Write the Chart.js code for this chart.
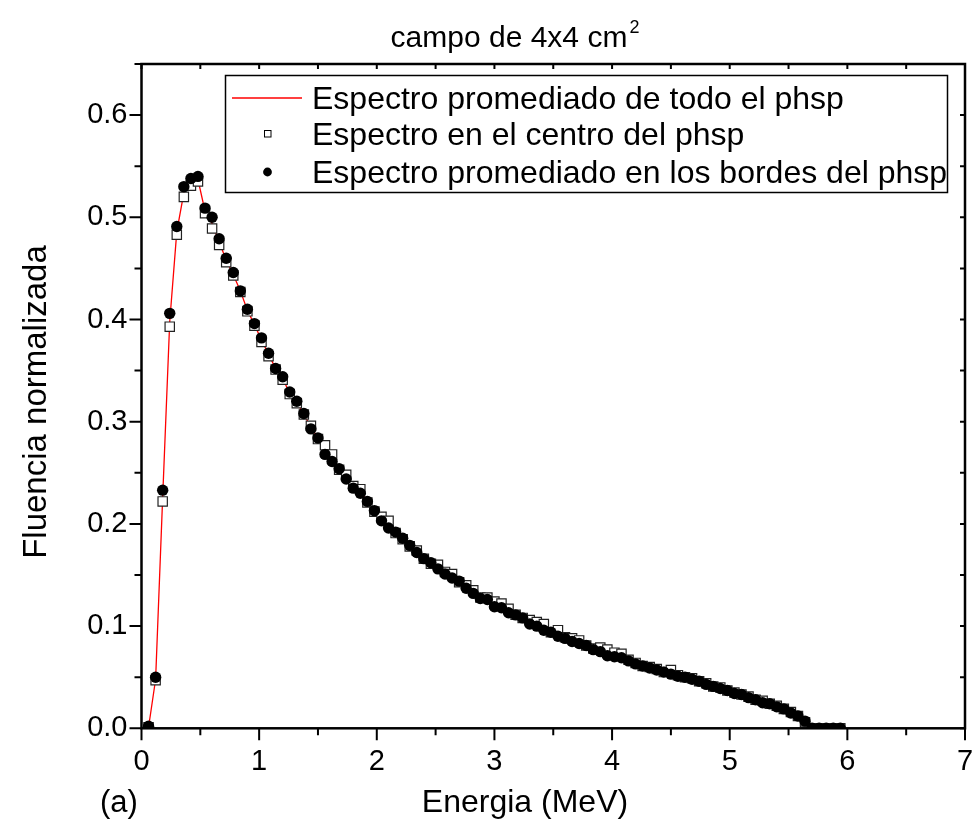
<!DOCTYPE html>
<html>
<head>
<meta charset="utf-8">
<title>campo de 4x4 cm2</title>
<script src="https://cdn.jsdelivr.net/npm/chart.js@4.4.1/dist/chart.umd.min.js"></script>
<style>
  html, body { margin: 0; padding: 0; background: #fff; }
</style>
</head>
<body>
<canvas id="chartEspectro" width="975" height="831"></canvas>
<script>
// energia de cada bin (MeV)
const energias = [
  0.06, 0.12, 0.18, 0.24, 0.30, 0.36, 0.42, 0.48, 0.54, 0.60,
  0.66, 0.72, 0.78, 0.84, 0.90, 0.96, 1.02, 1.08, 1.14, 1.20,
  1.26, 1.32, 1.38, 1.44, 1.50, 1.56, 1.62, 1.68, 1.74, 1.80,
  1.86, 1.92, 1.98, 2.04, 2.10, 2.16, 2.22, 2.28, 2.34, 2.40,
  2.46, 2.52, 2.58, 2.64, 2.70, 2.76, 2.82, 2.88, 2.94, 3.00,
  3.06, 3.12, 3.18, 3.24, 3.30, 3.36, 3.42, 3.48, 3.54, 3.60,
  3.66, 3.72, 3.78, 3.84, 3.90, 3.96, 4.02, 4.08, 4.14, 4.20,
  4.26, 4.32, 4.38, 4.44, 4.50, 4.56, 4.62, 4.68, 4.74, 4.80,
  4.86, 4.92, 4.98, 5.04, 5.10, 5.16, 5.22, 5.28, 5.34, 5.40,
  5.46, 5.52, 5.58, 5.64, 5.70, 5.76, 5.82, 5.88, 5.94
];

// espectro promediado de todo el phsp (linea roja)
const promTodo = [
  0.001, 0.048, 0.226, 0.398, 0.486, 0.524, 0.533, 0.537, 0.506, 0.494,
  0.476, 0.458, 0.444, 0.428, 0.409, 0.395, 0.380, 0.366, 0.352, 0.342,
  0.328, 0.319, 0.307, 0.295, 0.284, 0.272, 0.264, 0.254, 0.246, 0.236,
  0.232, 0.222, 0.213, 0.205, 0.199, 0.192, 0.186, 0.179, 0.173, 0.166,
  0.162, 0.158, 0.152, 0.149, 0.144, 0.139, 0.134, 0.128, 0.127, 0.121,
  0.120, 0.115, 0.111, 0.108, 0.104, 0.102, 0.099, 0.094, 0.093, 0.089,
  0.087, 0.085, 0.081, 0.078, 0.077, 0.074, 0.072, 0.071, 0.067, 0.064,
  0.061, 0.060, 0.058, 0.055, 0.055, 0.052, 0.050, 0.049, 0.046, 0.044,
  0.041, 0.040, 0.037, 0.035, 0.033, 0.031, 0.028, 0.026, 0.024, 0.022,
  0.019, 0.016, 0.012, 0.007, 0.000, 0.000, 0.000, 0.000, 0.000
];

// espectro en el centro del phsp (cuadrados)
const centro = [
  0.001, 0.047, 0.222, 0.393, 0.483, 0.520, 0.531, 0.535, 0.504, 0.489,
  0.473, 0.456, 0.443, 0.427, 0.408, 0.394, 0.378, 0.364, 0.351, 0.341,
  0.327, 0.318, 0.307, 0.296, 0.283, 0.277, 0.268, 0.253, 0.248, 0.237,
  0.234, 0.221, 0.212, 0.207, 0.203, 0.191, 0.185, 0.178, 0.174, 0.166,
  0.161, 0.160, 0.153, 0.151, 0.143, 0.140, 0.135, 0.128, 0.128, 0.124,
  0.122, 0.117, 0.111, 0.108, 0.106, 0.104, 0.102, 0.094, 0.096, 0.089,
  0.088, 0.086, 0.081, 0.078, 0.079, 0.077, 0.074, 0.073, 0.067, 0.064,
  0.061, 0.060, 0.058, 0.055, 0.057, 0.052, 0.050, 0.049, 0.046, 0.044,
  0.041, 0.040, 0.037, 0.035, 0.033, 0.031, 0.028, 0.027, 0.024, 0.022,
  0.019, 0.016, 0.012, 0.006, 0.000, 0.000, 0.000, 0.000, 0.000
];

// espectro promediado en los bordes del phsp (circulos)
const bordes = [
  0.002, 0.050, 0.233, 0.406, 0.491, 0.530, 0.538, 0.540, 0.509, 0.500,
  0.479, 0.460, 0.446, 0.428, 0.410, 0.396, 0.382, 0.367, 0.352, 0.344,
  0.329, 0.320, 0.308, 0.293, 0.284, 0.268, 0.261, 0.254, 0.244, 0.235,
  0.230, 0.222, 0.213, 0.203, 0.196, 0.192, 0.186, 0.179, 0.172, 0.166,
  0.162, 0.156, 0.151, 0.147, 0.144, 0.137, 0.132, 0.127, 0.126, 0.119,
  0.118, 0.113, 0.111, 0.108, 0.102, 0.100, 0.096, 0.094, 0.090, 0.088,
  0.085, 0.083, 0.081, 0.077, 0.075, 0.071, 0.070, 0.069, 0.066, 0.063,
  0.061, 0.059, 0.057, 0.055, 0.053, 0.051, 0.050, 0.048, 0.046, 0.043,
  0.041, 0.039, 0.037, 0.034, 0.033, 0.030, 0.028, 0.025, 0.024, 0.021,
  0.019, 0.015, 0.012, 0.007, 0.000, 0.000, 0.000, 0.000, 0.000
];

const xTicks = [0, 1, 2, 3, 4, 5, 6, 7];
const yTicks = [0.0, 0.1, 0.2, 0.3, 0.4, 0.5, 0.6];

const titulo = 'campo de 4x4 cm';
const tituloSup = '2';
const etiquetaX = 'Energia (MeV)';
const etiquetaY = 'Fluencia normalizada';
const panel = '(a)';

const FUENTE = "'Liberation Sans', Arial, sans-serif";

const puntos = (ys) => energias.map((e, i) => ({ x: e, y: ys[i] }));

// marco, ticks menores, titulos y leyenda al estilo Origin
const marcoPlugin = {
  id: 'marco',
  afterDraw(chart) {
    const ctx = chart.ctx;
    const a = chart.chartArea;
    const sx = chart.scales.x;
    const sy = chart.scales.y;
    ctx.save();
    ctx.strokeStyle = '#000';
    ctx.lineCap = 'butt';

    // ticks
    ctx.lineWidth = 2;
    ctx.beginPath();
    for (let i = 0; i < xTicks.length; i++) {
      const px = sx.getPixelForValue(xTicks[i]);
      ctx.moveTo(px, a.bottom); ctx.lineTo(px, a.bottom + 12);
      ctx.moveTo(px, a.top); ctx.lineTo(px, a.top + 5);
      if (i < xTicks.length - 1) {
        const pm = sx.getPixelForValue((xTicks[i] + xTicks[i + 1]) / 2);
        ctx.moveTo(pm, a.bottom); ctx.lineTo(pm, a.bottom + 7);
        ctx.moveTo(pm, a.top); ctx.lineTo(pm, a.top + 5);
      }
    }
    for (let i = 0; i < yTicks.length; i++) {
      const py = sy.getPixelForValue(yTicks[i]);
      ctx.moveTo(a.left, py); ctx.lineTo(a.left - 12, py);
      ctx.moveTo(a.right, py); ctx.lineTo(a.right - 5, py);
      const pm = sy.getPixelForValue(yTicks[i] + 0.05);
      ctx.moveTo(a.left, pm); ctx.lineTo(a.left - 7, pm);
      ctx.moveTo(a.right, pm); ctx.lineTo(a.right - 5, pm);
    }
    ctx.stroke();

    // marco
    ctx.lineWidth = 2.5;
    ctx.strokeRect(a.left, a.top, a.right - a.left, a.bottom - a.top);

    // titulo
    ctx.fillStyle = '#000';
    ctx.font = '30px ' + FUENTE;
    ctx.textBaseline = 'alphabetic';
    ctx.textAlign = 'left';
    const wT = ctx.measureText(titulo).width;
    ctx.font = '18px ' + FUENTE;
    const wS = ctx.measureText(tituloSup).width;
    const x0 = 515 - (wT + wS + 2) / 2;
    ctx.font = '30px ' + FUENTE;
    ctx.fillText(titulo, x0, 47);
    ctx.font = '18px ' + FUENTE;
    ctx.fillText(tituloSup, x0 + wT + 2, 33);

    // etiquetas de ejes
    ctx.font = '32px ' + FUENTE;
    ctx.textAlign = 'center';
    ctx.fillText(etiquetaX, 525, 812);
    ctx.textAlign = 'left';
    ctx.font = '31px ' + FUENTE;
    ctx.fillText(panel, 100, 812);
    ctx.save();
    ctx.font = '33px ' + FUENTE;
    ctx.translate(46, 402);
    ctx.rotate(-Math.PI / 2);
    ctx.textAlign = 'center';
    ctx.fillText(etiquetaY, 0, 0);
    ctx.restore();

    // leyenda
    const ds = chart.data.datasets;
    ctx.fillStyle = '#fff';
    ctx.fillRect(225, 75, 723, 118);
    ctx.lineWidth = 1.5;
    ctx.strokeStyle = '#000';
    ctx.strokeRect(225.5, 75.5, 722, 117);
    ctx.font = '32px ' + FUENTE;
    ctx.textAlign = 'left';
    ctx.fillStyle = '#000';
    const filas = [98, 134, 172];
    // linea roja
    ctx.strokeStyle = ds[2].borderColor;
    ctx.lineWidth = 1.3;
    ctx.beginPath();
    ctx.moveTo(232, filas[0]); ctx.lineTo(302, filas[0]);
    ctx.stroke();
    ctx.fillText(ds[2].label, 312, filas[0] + 11);
    // cuadrado
    ctx.fillStyle = '#fff';
    ctx.strokeStyle = '#000';
    ctx.lineWidth = 1;
    ctx.fillRect(264, filas[1] - 3.5, 7, 7);
    ctx.strokeRect(264.5, filas[1] - 3.5, 6.5, 6.5);
    ctx.fillStyle = '#000';
    ctx.fillText(ds[1].label, 312, filas[1] + 11);
    // circulo
    ctx.beginPath();
    ctx.arc(267.5, filas[2], 4.4, 0, Math.PI * 2);
    ctx.fill();
    ctx.fillText(ds[0].label, 312, filas[2] + 11);

    ctx.restore();
  }
};

new Chart(document.getElementById('chartEspectro'), {
  type: 'scatter',
  data: {
    datasets: [
      {
        label: 'Espectro promediado en los bordes del phsp',
        data: puntos(bordes),
        pointStyle: 'circle',
        pointRadius: 5.7,
        pointBackgroundColor: '#000',
        pointBorderColor: '#000',
        pointBorderWidth: 0,
        showLine: false,
        clip: 0,
        order: 0
      },
      {
        label: 'Espectro en el centro del phsp',
        data: puntos(centro),
        pointStyle: 'rect',
        pointRadius: 6.6,
        pointBackgroundColor: '#fff',
        pointBorderColor: '#222',
        pointBorderWidth: 1.2,
        showLine: false,
        clip: 0,
        order: 1
      },
      {
        label: 'Espectro promediado de todo el phsp',
        data: puntos(promTodo),
        showLine: true,
        borderColor: '#ff0000',
        borderWidth: 1.3,
        pointRadius: 0,
        tension: 0,
        clip: 0,
        order: 2
      }
    ]
  },
  options: {
    responsive: false,
    animation: false,
    devicePixelRatio: 1,
    layout: { padding: { top: 64, right: 10, bottom: 0, left: 0 } },
    plugins: {
      legend: { display: false },
      tooltip: { enabled: false },
      title: { display: false }
    },
    scales: {
      x: {
        type: 'linear',
        min: 0,
        max: 7,
        grid: { display: false, drawTicks: false },
        border: { display: false },
        afterBuildTicks: (s) => { s.ticks = xTicks.map(v => ({ value: v })); },
        afterFit: (s) => { s.height = 102.7; s.paddingLeft = 0; s.paddingRight = 0; },
        ticks: {
          color: '#000',
          padding: 16,
          maxRotation: 0,
          autoSkip: false,
          font: { family: FUENTE, size: 29 },
          callback: (v) => String(v)
        }
      },
      y: {
        type: 'linear',
        min: 0,
        max: 0.65,
        grid: { display: false, drawTicks: false },
        border: { display: false },
        afterBuildTicks: (s) => { s.ticks = yTicks.map(v => ({ value: v })); },
        afterFit: (s) => { s.width = 141.5; s.paddingTop = 0; s.paddingBottom = 0; },
        ticks: {
          color: '#000',
          padding: 14,
          autoSkip: false,
          font: { family: FUENTE, size: 29 },
          callback: (v) => v.toFixed(1)
        }
      }
    }
  },
  plugins: [marcoPlugin]
});
</script>
</body>
</html>
